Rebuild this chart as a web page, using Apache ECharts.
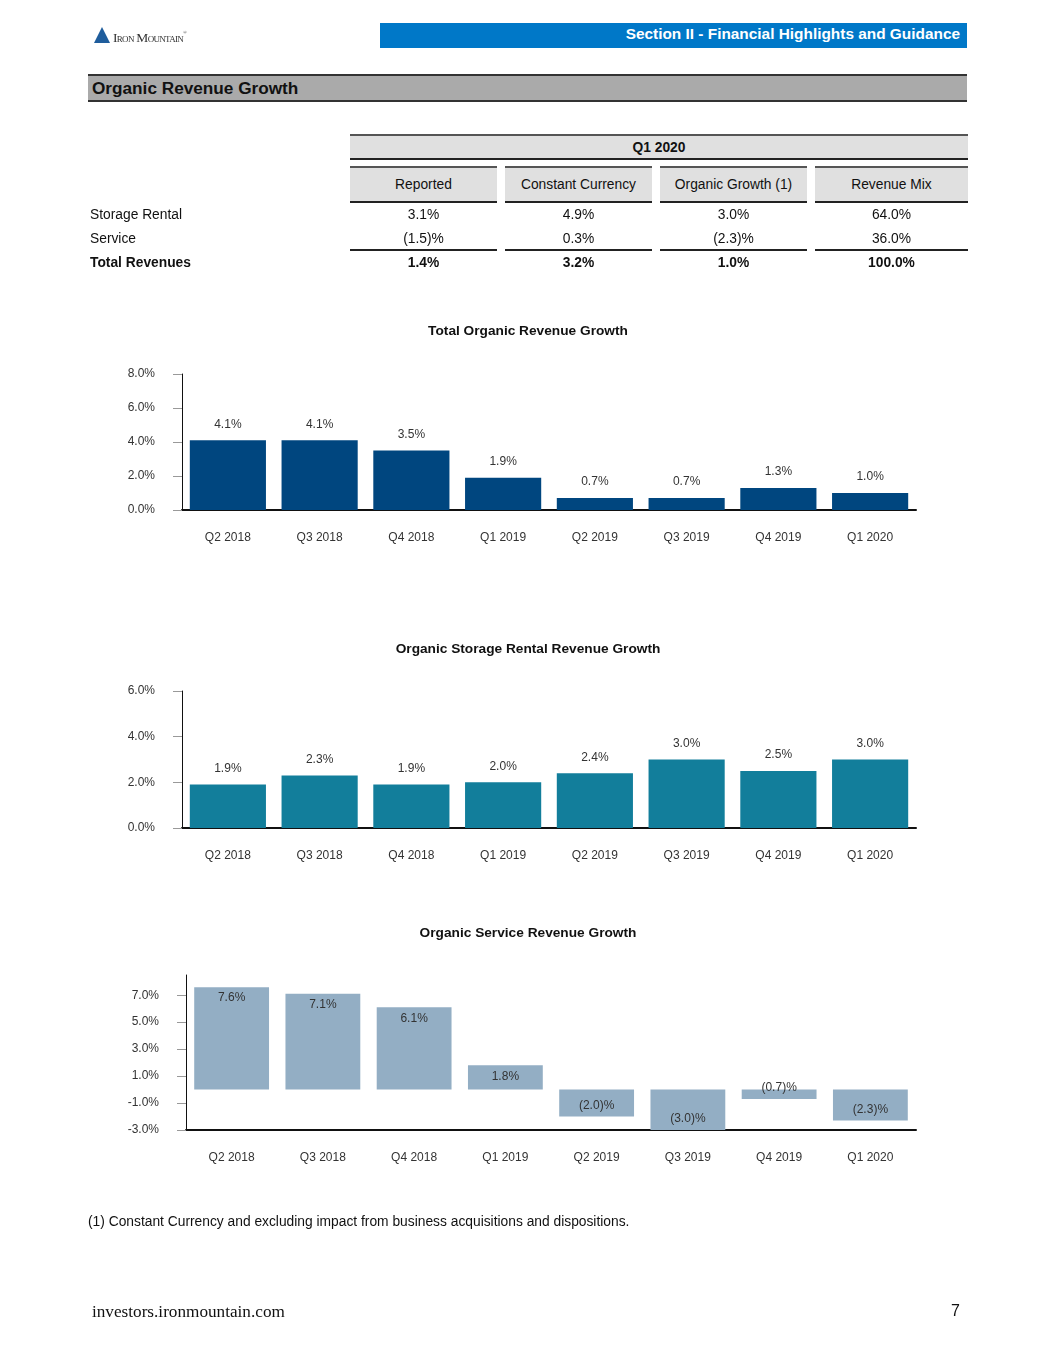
<!DOCTYPE html>
<html>
<head>
<meta charset="utf-8">
<script src="https://cdn.jsdelivr.net/npm/echarts@6/dist/echarts.min.js"></script>
<style>
  body { margin: 0; background: #fff; }
  #page { position: relative; width: 1055px; height: 1365px; font-family: "Liberation Sans", Arial, sans-serif; color: #111; }
  #chart { position: absolute; left: 0; top: 0; width: 1055px; height: 1365px; }
  .abs { position: absolute; box-sizing: border-box; }
  .hdr { background: #e0e0e0; border-top: 2px solid #555; border-bottom: 2px solid #222; display: flex; align-items: center; justify-content: center; font-size: 13.8px; }
  .cell { font-size: 13.8px; text-align: center; line-height: 16px; }
  .lbl { font-size: 13.8px; line-height: 16px; }
</style>
</head>
<body>
<div id="page">
  <div id="chart"></div>

  <!-- 页眉 -->
  <svg class="abs" style="left:92px;top:26px" width="20" height="18"><polygon points="10,1 18,17 2,17" fill="#1f5d9c"/></svg>
  <div class="abs" style="left:113px;top:30px;font-family:'Liberation Serif',serif;font-size:13.5px;font-variant:small-caps;letter-spacing:-0.7px;color:#333">Iron Mountain<span style="font-size:5px;vertical-align:top">®</span></div>
  <div class="abs" style="left:380px;top:23px;width:587px;height:25px;background:#0078c8;color:#fff;font-weight:bold;font-size:15.4px;text-align:right;padding-right:7px;line-height:21px">Section II - Financial Highlights and Guidance</div>
  <div class="abs" style="left:88px;top:74px;width:879px;height:28px;background:#aaa;border-top:2px solid #333;border-bottom:2px solid #333;font-weight:bold;font-size:17.2px;padding-left:4px;line-height:24px">Organic Revenue Growth</div>

  <div id="table"></div>

  <div class="abs" style="left:88px;top:1214px;font-size:13.8px;color:#111">(1) Constant Currency and excluding impact from business acquisitions and dispositions.</div>
  <div class="abs" style="left:92px;top:1302px;font-family:'Liberation Serif',serif;font-size:17.2px;color:#111">investors.ironmountain.com</div>
  <div class="abs" style="left:951px;top:1302px;font-size:16px;color:#111">7</div>
</div>

<script>
// 表格数据
const tablePeriod = 'Q1 2020';
const tableCols = ['Reported', 'Constant Currency', 'Organic Growth (1)', 'Revenue Mix'];
const tableRows = ['Storage Rental', 'Service', 'Total Revenues'];
const storageVals = ['3.1%', '4.9%', '3.0%', '64.0%'];
const serviceVals = ['(1.5)%', '0.3%', '(2.3)%', '36.0%'];
const totalVals = ['1.4%', '3.2%', '1.0%', '100.0%'];

// 图表数据
const quarters = ['Q2 2018', 'Q3 2018', 'Q4 2018', 'Q1 2019', 'Q2 2019', 'Q3 2019', 'Q4 2019', 'Q1 2020'];
const totalGrowth = [4.1, 4.1, 3.5, 1.9, 0.7, 0.7, 1.3, 1.0];
const storageGrowth = [1.9, 2.3, 1.9, 2.0, 2.4, 3.0, 2.5, 3.0];
const serviceGrowth = [7.6, 7.1, 6.1, 1.8, -2.0, -3.0, -0.7, -2.3];
const totalTicks = [0, 2, 4, 6, 8];
const storageTicks = [0, 2, 4, 6];
const serviceTicks = [-3, -1, 1, 3, 5, 7];

// 画表格
const colX = [[350, 497], [505, 652], [660, 807], [815, 968]];
const rowY = [207, 231, 255];
let html = `<div class="abs hdr" style="left:350px;top:134px;width:618px;height:26px;font-weight:bold">${tablePeriod}</div>`;
colX.forEach(([a, b], i) => {
  html += `<div class="abs hdr" style="left:${a}px;top:166px;width:${b - a}px;height:37px">${tableCols[i]}</div>`;
  html += `<div class="abs" style="left:${a}px;top:249px;width:${b - a}px;height:2px;background:#222"></div>`;
  [storageVals, serviceVals, totalVals].forEach((vals, r) => {
    html += `<div class="abs cell" style="left:${a}px;top:${rowY[r]}px;width:${b - a}px;${r === 2 ? 'font-weight:bold' : ''}">${vals[i]}</div>`;
  });
});
tableRows.forEach((t, r) => {
  html += `<div class="abs lbl" style="left:90px;top:${rowY[r]}px;${r === 2 ? 'font-weight:bold' : ''}">${t}</div>`;
});
document.getElementById('table').innerHTML = html;

const pct = (v) => v.toFixed(1) + '%';
const paren = (v) => (v < 0 ? '(' + Math.abs(v).toFixed(1) + ')%' : v.toFixed(1) + '%');
const font = 'Liberation Sans';

const grids = [
  { left: 182, width: 734, top: 374, height: 136 },
  { left: 182, width: 734, top: 691, height: 137 },
  { left: 186, width: 730, top: 975, height: 155 },
];
const ranges = [[0, 8], [0, 6], [-3, 8.5]];
const tickSets = [totalTicks, storageTicks, serviceTicks];
const titles = [
  ['Total Organic Revenue Growth', 324],
  ['Organic Storage Rental Revenue Growth', 642],
  ['Organic Service Revenue Growth', 926],
];

const chart = echarts.init(document.getElementById('chart'));
chart.setOption({
  animation: false,
  textStyle: { fontFamily: font },
  title: titles.map(([text, top]) => ({
    text, top, left: 528, textAlign: 'center', padding: 0,
    textStyle: { fontSize: 13.7, fontWeight: 'bold', color: '#111', fontFamily: font },
  })),
  grid: grids,
  xAxis: grids.map((g, i) => ({
    type: 'category',
    gridIndex: i,
    data: quarters,
    axisLine: { onZero: false, lineStyle: { color: '#111', width: 2 } },
    axisTick: { alignWithLabel: true, length: 10, lineStyle: { color: '#999' } },
    axisLabel: { margin: 22, fontSize: 12, color: '#333' },
  })),
  yAxis: grids.map((g, i) => ({
    type: 'value',
    gridIndex: i,
    min: ranges[i][0],
    max: ranges[i][1],
    splitLine: { show: false },
    axisLine: { show: true, lineStyle: { color: '#111', width: 1 } },
    axisTick: { show: true, length: 9, customValues: tickSets[i], lineStyle: { color: '#999' } },
    axisLabel: { margin: 27, fontSize: 12, color: '#333', customValues: tickSets[i], formatter: pct },
  })),
  series: [
    {
      type: 'bar', xAxisIndex: 0, yAxisIndex: 0, data: totalGrowth,
      barCategoryGap: '17%',
      itemStyle: { color: '#00467f' },
      label: { show: true, position: 'top', distance: 10, fontSize: 12, color: '#333', formatter: (p) => pct(p.value) },
    },
    {
      type: 'bar', xAxisIndex: 1, yAxisIndex: 1, data: storageGrowth,
      barCategoryGap: '17%',
      itemStyle: { color: '#127e9b' },
      label: { show: true, position: 'top', distance: 10, fontSize: 12, color: '#333', formatter: (p) => pct(p.value) },
    },
    {
      type: 'bar', xAxisIndex: 2, yAxisIndex: 2,
      data: serviceGrowth.map((v) => ({ value: v, label: { position: v < 0 ? 'insideBottom' : 'insideTop' } })),
      barCategoryGap: '18%',
      itemStyle: { color: '#93aec4' },
      label: { show: true, distance: 5, fontSize: 12, color: '#333', formatter: (p) => paren(p.value) },
    },
  ],
});
</script>
</body>
</html>
